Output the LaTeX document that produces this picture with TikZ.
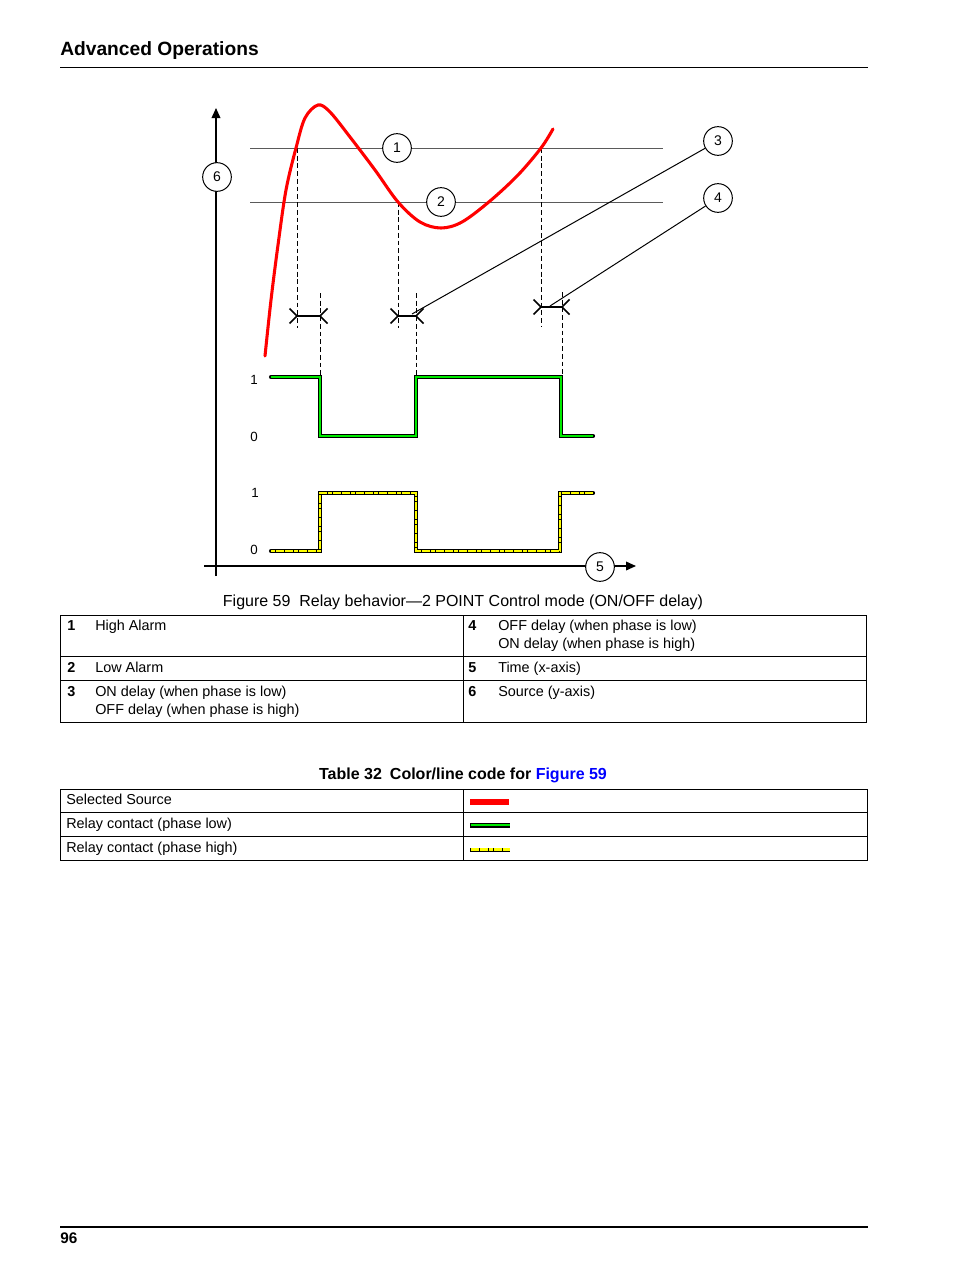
\documentclass[tikz,border=0pt]{standalone}
\usepackage{fontspec}
\setmainfont{Liberation Sans}
\usetikzlibrary{arrows.meta}
\definecolor{relgreen}{RGB}{0,235,0}
\definecolor{relyellow}{RGB}{255,255,0}
\definecolor{linkblue}{RGB}{0,0,255}
\definecolor{alarmgray}{RGB}{90,90,90}
\begin{document}
\begin{tikzpicture}[x=0.75pt,y=-0.75pt,
  callout/.style={circle, draw, fill=white, line width=0.75pt, minimum size=21.5pt, inner sep=0pt, font=\fontsize{10.5}{12}\selectfont},
  txt/.style={anchor=base west, inner sep=0pt, font=\fontsize{10.8}{13}\selectfont},
  numtxt/.style={anchor=base west, inner sep=0pt, font=\fontsize{10.8}{13}\selectfont\bfseries},
  lvl/.style={inner sep=0pt, font=\fontsize{10}{12}\selectfont},
  axisline/.style={line width=1.1pt, -{Triangle[length=7.5pt,width=6.5pt]}},
  alarmline/.style={line width=0.7pt, alarmgray},
  dashv/.style={line width=0.75pt, dash pattern=on 3.6pt off 2.2pt},
  markline/.style={line width=1.2pt},
  leader/.style={line width=0.75pt},
  tabline/.style={line width=0.6pt},
  redcurve/.style={red, line width=2.3pt, line cap=round},
  blackunder/.style={black, line width=3.1pt, line cap=round, line join=miter},
  greenover/.style={relgreen, line width=1.8pt, line join=miter},
  yellowover/.style={relyellow, line width=2pt, line join=miter, dash pattern=on 3pt off 0.45pt}
]
\useasboundingbox (0,0) rectangle (954,1270);

% header and footer
\node[anchor=base west, inner sep=0pt, font=\fontsize{14.4}{17}\selectfont\bfseries] (hdr) at (60,56) {Advanced Operations};
\draw[line width=0.75pt] (60,68) -- (868,68);
\draw[line width=1.5pt] (60,1227) -- (868,1227);
\node[anchor=base west, inner sep=0pt, font=\fontsize{11.5}{13}\selectfont\bfseries] (pg) at (60,1243) {96};

% alarm lines
\draw[alarmline] (250,148) -- (663,148);
\draw[alarmline] (250,202) -- (663,202);

% dashed verticals
\draw[dashv] (297,148) -- (297,328);
\draw[dashv] (320,293) -- (320,377);
\draw[dashv] (398,202) -- (398,328);
\draw[dashv] (416,293) -- (416,377);
\draw[dashv] (541,148) -- (541,327);
\draw[dashv] (562,292) -- (562,377);

% delay markers
\foreach \a/\b/\y in {297/320/316, 398/416/316, 541/562/307}{
  \draw[markline] (\a-7.5,\y-7.5) -- (\a,\y) -- (\a-7.5,\y+7.5);
  \draw[markline] (\a,\y) -- (\b,\y);
  \draw[markline] (\b+7.5,\y-7.5) -- (\b,\y) -- (\b+7.5,\y+7.5);
}

% red source curve
\draw[redcurve] plot[smooth, tension=0.55] coordinates {(265,356) (271,300) (278,245) (286,190) (296,148) (305,118) (318,105) (330,112) (350,137) (375,170) (398,202) (420,222) (441,228) (462,222) (490,201) (518,175) (541,148) (553,129)};

% axes
\draw[axisline] (216,576) -- (216,108);
\draw[axisline] (204,566) -- (636,566);

% callouts
\node[callout] (c1) at (397,148) {1};
\node[callout] (c2) at (441,202) {2};
\node[callout] (c3) at (718,141) {3};
\node[callout] (c4) at (718,198) {4};
\node[callout] (c5) at (600,567) {5};
\node[callout] (c6) at (217,177) {6};
\coordinate (l3) at (412,314);
\coordinate (l4) at (550,306);
\draw[leader] (c3) -- (l3);
\draw[leader] (c4) -- (l4);

% green relay trace (phase low)
\draw[blackunder] (271,377) -- (320,377) -- (320,436) -- (416,436) -- (416,377) -- (561,377) -- (561,436) -- (593,436);
\draw[greenover] (271,377) -- (320,377) -- (320,436) -- (416,436) -- (416,377) -- (561,377) -- (561,436) -- (593,436);

% yellow relay trace (phase high)
\draw[blackunder] (271,551) -- (320,551) -- (320,493) -- (416,493) -- (416,551) -- (560,551) -- (560,493) -- (593,493);
\draw[yellowover] (271,551) -- (320,551) -- (320,493) -- (416,493) -- (416,551) -- (560,551) -- (560,493) -- (593,493);

% level labels
\node[lvl] (g1) at (254,380) {1};
\node[lvl] (g0) at (254,437) {0};
\node[lvl] (y1) at (255,493) {1};
\node[lvl] (y0) at (254,550) {0};

% caption
\node[anchor=base, inner sep=0pt, font=\fontsize{12}{14}\selectfont] (cap) at (463,606) {Figure 59\hspace{0.55em}Relay behavior—2 POINT Control mode (ON/OFF delay)};

% legend table
\draw[tabline] (60,615) rectangle (866,722);
\draw[tabline] (463,615) -- (463,722);
\draw[tabline] (60,656) -- (866,656);
\draw[tabline] (60,680) -- (866,680);
\node[numtxt] (n1) at (67,630) {1};
\node[txt] (t1) at (95,630) {High Alarm};
\node[numtxt] (n4) at (468,630) {4};
\node[txt] (t4a) at (498,630) {OFF delay (when phase is low)};
\node[txt] (t4b) at (498,648) {ON delay (when phase is high)};
\node[numtxt] (n2) at (67,672) {2};
\node[txt] (t2) at (95,672) {Low Alarm};
\node[numtxt] (n5) at (468,672) {5};
\node[txt] (t5) at (498,672) {Time (x-axis)};
\node[numtxt] (n3) at (67,696) {3};
\node[txt] (t3a) at (95,696) {ON delay (when phase is low)};
\node[txt] (t3b) at (95,714) {OFF delay (when phase is high)};
\node[numtxt] (n6) at (468,696) {6};
\node[txt] (t6) at (498,696) {Source (y-axis)};

% table 32
\node[anchor=base, inner sep=0pt, font=\fontsize{12}{14}\selectfont\bfseries] (tt) at (463,779) {Table 32\hspace{0.5em}Color/line code for \textcolor{linkblue}{Figure 59}};
\draw[tabline] (60,789) rectangle (867,860);
\draw[tabline] (463,789) -- (463,860);
\draw[tabline] (60,812.5) -- (867,812.5);
\draw[tabline] (60,836) -- (867,836);
\node[txt] (s1) at (66,804) {Selected Source};
\node[txt] (s2) at (66,828) {Relay contact (phase low)};
\node[txt] (s3) at (66,852) {Relay contact (phase high)};
\fill[red] (470,799) rectangle (509,805);
\draw[blackunder, line cap=butt] (470,825.5) -- (510,825.5);
\draw[greenover] (470.5,825.2) -- (509.5,825.2);
\draw[blackunder, line cap=butt] (470,850) -- (510,850);
\draw[yellowover] (470.5,849.7) -- (509.5,849.7);
\end{tikzpicture}
\end{document}
